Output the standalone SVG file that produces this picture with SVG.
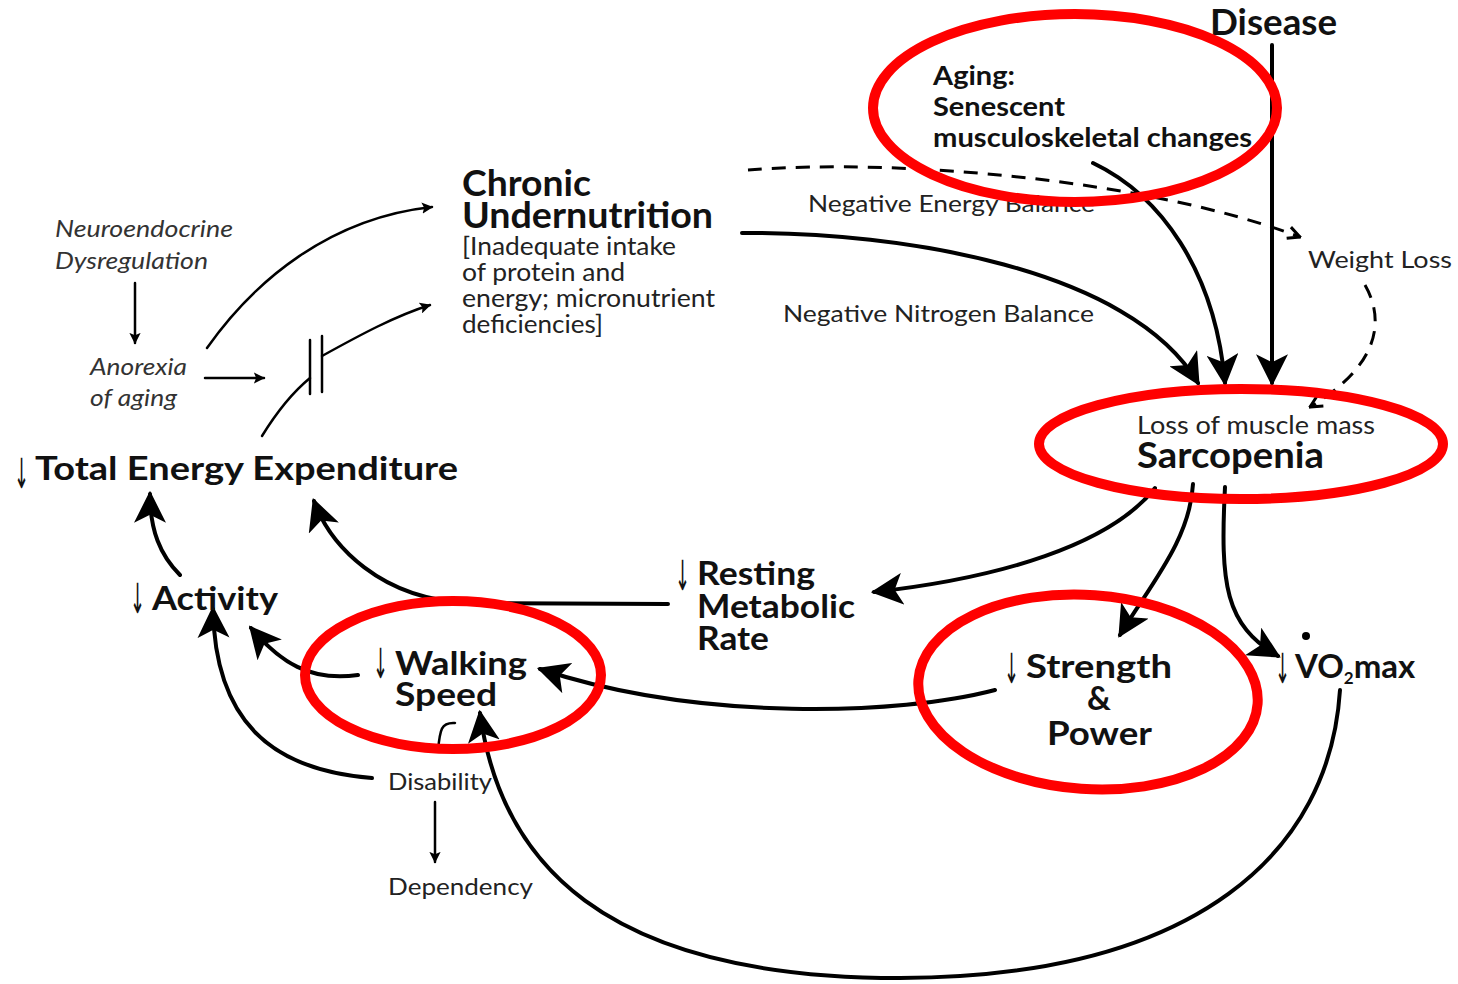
<svg xmlns="http://www.w3.org/2000/svg" width="1458" height="984" viewBox="0 0 1458 984">
<defs>
<style>
text{font-family:Lato,"Open Sans","Liberation Sans",sans-serif;fill:#111}
.b{font-weight:bold}
.it{font-style:italic;fill:#333}
.reg{fill:#222}
.ar{font-family:"DejaVu Sans",sans-serif;font-weight:normal;font-size:36px}
.c{fill:none;stroke:#000;stroke-width:4;stroke-linecap:round}
.t{fill:none;stroke:#000;stroke-width:2.5;stroke-linecap:round}
.d{fill:none;stroke:#000;stroke-width:3;stroke-dasharray:14 10}
.red{fill:none;stroke:#f00;stroke-width:10}
</style>
<marker id="big" viewBox="0 0 10 10" refX="9" refY="5" markerWidth="8" markerHeight="8" orient="auto" markerUnits="strokeWidth">
<path d="M0,0 L10,5 L0,10 L2.5,5 z" fill="#000"/>
</marker>
<marker id="sm" viewBox="0 0 10 10" refX="9" refY="5" markerWidth="4.5" markerHeight="4.5" orient="auto" markerUnits="strokeWidth">
<path d="M0,0 L10,5 L0,10 L2,5 z" fill="#000"/>
</marker>
<marker id="open" viewBox="0 0 10 10" refX="9" refY="5" markerWidth="5" markerHeight="5" orient="auto" markerUnits="strokeWidth">
<path d="M1,1 L9,5 L1,9" fill="none" stroke="#000" stroke-width="2"/>
</marker>
</defs>
<rect width="1458" height="984" fill="#fff"/>

<g id="connectors">
<path class="t" d="M135,283 L135,343" marker-end="url(#sm)"/>
<path class="t" d="M205,378 L264,378" marker-end="url(#sm)"/>
<path class="t" d="M207,348 C255,280 330,218 432,207" marker-end="url(#sm)"/>
<path class="t" d="M262,436 C278,410 293,392 310,378"/>
<path class="t" d="M310,340 L310,394 M322,336 L322,392"/>
<path class="t" d="M322,356 C360,335 395,316 430,305" marker-end="url(#sm)"/>
<path class="c" d="M742,233 C900,232 1130,268 1198,383" marker-end="url(#big)"/>
<path class="c" d="M1093,163 C1160,195 1215,270 1225,383" marker-end="url(#big)"/>
<path class="c" d="M1272,45 L1272,383" marker-end="url(#big)"/>
<path class="d" d="M748,170 C900,158 1150,180 1300,237" marker-end="url(#open)"/>
<path class="d" d="M1365,285 C1385,320 1380,365 1310,407" marker-end="url(#open)"/>
<path class="c" d="M1155,488 C1110,545 1000,578 874,592" marker-end="url(#big)"/>
<path class="c" d="M1193,484 C1190,540 1150,585 1120,635" marker-end="url(#big)"/>
<path class="c" d="M1225,487 C1220,585 1225,625 1278,656" marker-end="url(#big)"/>
<path class="c" d="M668,604 L470,603 C380,600 330,545 314,501" marker-end="url(#big)"/>
<path class="c" d="M995,690 C900,715 700,722 540,669" marker-end="url(#big)"/>
<path class="c" d="M358,675 C310,682 280,662 251,628" marker-end="url(#big)"/>
<path class="c" d="M180,575 C160,555 150,530 150,494" marker-end="url(#big)"/>
<path class="c" d="M372,778 C270,770 215,720 213,609" marker-end="url(#big)"/>
<path class="t" d="M435,802 L435,862" marker-end="url(#sm)"/>
<path class="t" d="M455,723 C441,722 440,730 438,750"/>
<path class="c" d="M1340,690 C1330,850 1200,977 900,978 C600,978 500,860 480,713" marker-end="url(#big)"/>
</g>

<g id="disease"><text class="b" x="1210" y="35" font-size="36" textLength="127" lengthAdjust="spacingAndGlyphs">Disease</text></g>
<g id="aging">
<text class="b" x="933" y="85" font-size="27" textLength="82" lengthAdjust="spacingAndGlyphs">Aging:</text>
<text class="b" x="933" y="116" font-size="27" textLength="132" lengthAdjust="spacingAndGlyphs">Senescent</text>
<text class="b" x="933" y="147" font-size="27" textLength="319" lengthAdjust="spacingAndGlyphs">musculoskeletal changes</text>
</g>
<g id="chronic">
<text class="b" x="462" y="196" font-size="36" textLength="129" lengthAdjust="spacingAndGlyphs">Chronic</text>
<text class="b" x="462" y="228" font-size="36" textLength="251" lengthAdjust="spacingAndGlyphs">Undernutrition</text>
<text class="reg" x="462" y="255" font-size="25" textLength="214" lengthAdjust="spacingAndGlyphs">[Inadequate intake</text>
<text class="reg" x="462" y="281" font-size="25" textLength="163" lengthAdjust="spacingAndGlyphs">of protein and</text>
<text class="reg" x="462" y="307" font-size="25" textLength="253" lengthAdjust="spacingAndGlyphs">energy; micronutrient</text>
<text class="reg" x="462" y="333" font-size="25" textLength="141" lengthAdjust="spacingAndGlyphs">deficiencies]</text>
</g>
<g id="neuro">
<text class="it" x="55" y="237" font-size="24" textLength="178" lengthAdjust="spacingAndGlyphs">Neuroendocrine</text>
<text class="it" x="55" y="269" font-size="24" textLength="153" lengthAdjust="spacingAndGlyphs">Dysregulation</text>
</g>
<g id="anorexia">
<text class="it" x="90" y="375" font-size="24" textLength="97" lengthAdjust="spacingAndGlyphs">Anorexia</text>
<text class="it" x="90" y="406" font-size="24" textLength="87" lengthAdjust="spacingAndGlyphs">of aging</text>
</g>
<g id="tee">
<text class="ar" transform="translate(14,488) scale(0.5,1.15)">↓</text>
<text class="b" x="35" y="480" font-size="33" textLength="423" lengthAdjust="spacingAndGlyphs">Total Energy Expenditure</text>
</g>
<g id="labels">
<text class="reg" x="808" y="212" font-size="24" textLength="287" lengthAdjust="spacingAndGlyphs">Negative Energy Balance</text>
<text class="reg" x="783" y="322" font-size="24" textLength="311" lengthAdjust="spacingAndGlyphs">Negative Nitrogen Balance</text>
</g>
<g id="weightloss"><text class="reg" x="1308" y="268" font-size="24" textLength="144" lengthAdjust="spacingAndGlyphs">Weight Loss</text></g>
<g id="sarcopenia">
<text class="reg" x="1137" y="434" font-size="25" textLength="238" lengthAdjust="spacingAndGlyphs">Loss of muscle mass</text>
<text class="b" x="1137" y="468" font-size="36" textLength="187" lengthAdjust="spacingAndGlyphs">Sarcopenia</text>
</g>
<g id="rmr">
<text class="ar" transform="translate(675,590) scale(0.5,1.15)">↓</text>
<text class="b" x="697" y="585" font-size="33" textLength="118" lengthAdjust="spacingAndGlyphs">Resting</text>
<text class="b" x="697" y="618" font-size="33" textLength="158" lengthAdjust="spacingAndGlyphs">Metabolic</text>
<text class="b" x="697" y="650" font-size="33" textLength="72" lengthAdjust="spacingAndGlyphs">Rate</text>
</g>
<g id="activity">
<text class="ar" transform="translate(130,613) scale(0.5,1.15)">↓</text>
<text class="b" x="152" y="610" font-size="33" textLength="126" lengthAdjust="spacingAndGlyphs">Activity</text>
</g>
<g id="walking">
<text class="ar" transform="translate(373,678) scale(0.5,1.15)">↓</text>
<text class="b" x="395" y="675" font-size="33" textLength="132" lengthAdjust="spacingAndGlyphs">Walking</text>
<text class="b" x="395" y="706" font-size="33" textLength="102" lengthAdjust="spacingAndGlyphs">Speed</text>
</g>
<g id="strength">
<text class="ar" transform="translate(1004,683) scale(0.5,1.15)">↓</text>
<text class="b" x="1026" y="678" font-size="33" textLength="146" lengthAdjust="spacingAndGlyphs">Strength</text>
<text class="b" x="1087" y="710" font-size="33">&amp;</text>
<text class="b" x="1047" y="745" font-size="33" textLength="105" lengthAdjust="spacingAndGlyphs">Power</text>
</g>
<g id="vo2">
<text class="ar" transform="translate(1275,683) scale(0.5,1.15)">↓</text>
<text class="b" x="1295" y="678" font-size="33">VO<tspan font-size="17" dy="6">2</tspan><tspan dy="-6">max</tspan></text>
<circle cx="1306" cy="636" r="4" fill="#000"/>
</g>
<g id="disability"><text class="reg" x="388" y="790" font-size="24" textLength="104" lengthAdjust="spacingAndGlyphs">Disability</text></g>
<g id="dependency"><text class="reg" x="388" y="895" font-size="24" textLength="145" lengthAdjust="spacingAndGlyphs">Dependency</text></g>

<g id="highlights">
<ellipse class="red" cx="1075" cy="108" rx="202" ry="94"/>
<ellipse class="red" cx="1241" cy="444" rx="202" ry="55"/>
<ellipse class="red" cx="453" cy="675" rx="148" ry="74"/>
<ellipse class="red" cx="1088" cy="692" rx="170" ry="97" transform="rotate(4 1088 692)"/>
</g>
</svg>
